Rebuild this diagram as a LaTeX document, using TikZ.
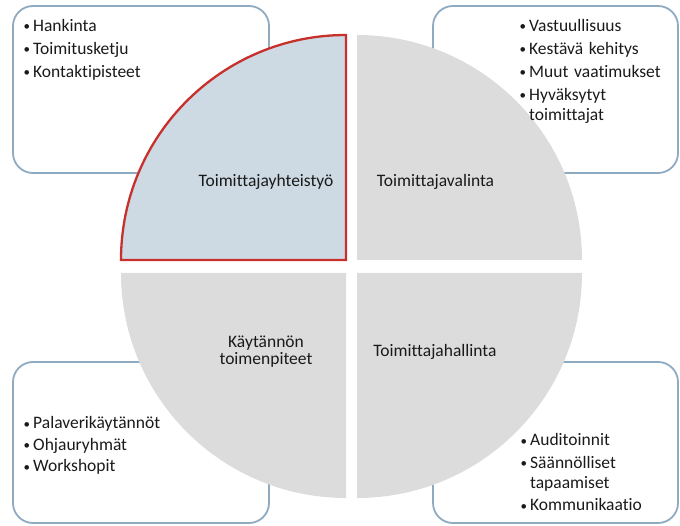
\documentclass[tikz,border=0pt]{standalone}
\usepackage{fontspec}
\setmainfont{Carlito}[Ligatures={NoCommon,NoDiscretionary}]
\definecolor{quadgray}{HTML}{DCDCDC}
\definecolor{quadblue}{HTML}{CDDAE3}
\definecolor{quadred}{HTML}{C8302C}
\definecolor{boxline}{HTML}{8FABC1}
\definecolor{txt}{HTML}{1A1A1A}
% one bulleted item with a hanging indent
\newcommand\bitem[1]{\par\hangindent=10pt\hangafter=1\noindent
  \makebox[10pt][l]{\hspace{0.5pt}\raisebox{0.5pt}{\fontsize{13}{13}\selectfont\textbullet}}#1}
\newcommand\brk{\hfil\break}
\tikzset{
  listbox/.style={draw=boxline, line width=1.8pt, rounded corners=20pt},
  quadrant/.style={fill=quadgray, draw=none},
  quadsel/.style={fill=quadblue, draw=quadred, line width=2.3pt, line join=miter},
  quadlabel/.style={text=txt, inner sep=0pt, font=\fontsize{17.5}{17}\selectfont, align=center},
  bulletlist/.style={text=txt, inner sep=0pt, anchor=north west, text width=160pt, align=left,
    font=\fontsize{17.5}{20}\selectfont}
}
\begin{document}
\begin{tikzpicture}[x=1pt,y=1pt]
\useasboundingbox (0,0) rectangle (680,525);
% list frames behind the circle
\draw[listbox] (13,352) rectangle (269,519);
\draw[listbox] (433,352) rectangle (678,519);
\draw[listbox] (13,2) rectangle (269,163);
\draw[listbox] (433,2) rectangle (678,163);
% four quarter discs
\path[quadrant] (357,265) -- (357,490) arc[start angle=90, end angle=0, radius=225] -- cycle;
\path[quadrant] (346,252) -- (121,252) arc[start angle=180, end angle=270, radius=225] -- cycle;
\path[quadrant] (357,252) -- (582,252) arc[start angle=0, end angle=-90, radius=225] -- cycle;
\draw[quadsel] (346,265) -- (121,265) arc[start angle=180, end angle=90, radius=225] -- cycle;
% quadrant titles
\node[quadlabel, anchor=base] (q1) at (266,338) {Toimittajayhteistyö};
\node[quadlabel, anchor=base] (q2) at (435.5,338) {Toimittajavalinta};
\node[quadlabel, anchor=base] (q3) at (266,160) {Käytännön\\toimenpiteet};
\node[quadlabel, anchor=base] (q4) at (435,168) {Toimittajahallinta};
% bullet lists
\node[bulletlist] (l1) at (23,517) {\setlength{\parskip}{3pt}%
  \bitem{\rule{0pt}{14pt}Hankinta}\bitem{Toimitusketju}\bitem{Kontaktipisteet}\par};
\node[bulletlist] (l2) at (519,517) {\setlength{\parskip}{3pt}%
  \bitem{\rule{0pt}{14pt}Vastuullisuus}\bitem{Kestävä kehitys}\bitem{Muut vaatimukset}\bitem{Hyväksytyt\brk toimittajat}\par};
\node[bulletlist] (l3) at (23,118) {\setlength{\parskip}{1.5pt}%
  \bitem{\rule{0pt}{14pt}Palaverikäytännöt}\bitem{Ohjauryhmät}\bitem{Workshopit}\par};
\node[bulletlist] (l4) at (520,102) {\setlength{\parskip}{2.5pt}%
  \bitem{\rule{0pt}{14pt}Auditoinnit}\bitem{Säännölliset\brk tapaamiset}\bitem{Kommunikaatio}\par};
\end{tikzpicture}
\end{document}
